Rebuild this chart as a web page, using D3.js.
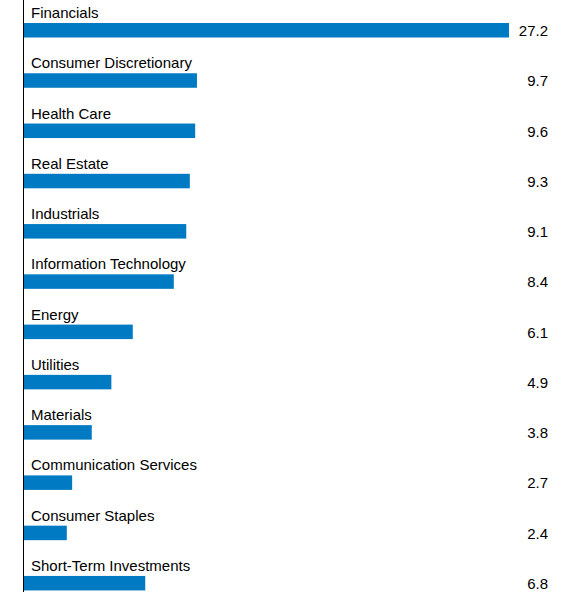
<!DOCTYPE html>
<html><head><meta charset="utf-8">
<script src="https://cdn.jsdelivr.net/npm/d3@7"></script>
<style>body{margin:0;background:#fff}text{font-family:"Liberation Sans",Arial,sans-serif}</style>
</head><body><svg id="c" width="573" height="598"></svg>
<script>
const categories=["Financials","Consumer Discretionary","Health Care","Real Estate","Industrials","Information Technology","Energy","Utilities","Materials","Communication Services","Consumer Staples","Short-Term Investments"];
const values=[27.2,9.7,9.6,9.3,9.1,8.4,6.1,4.9,3.8,2.7,2.4,6.8];
const svg=d3.select("#c");
const x0=24;
const x=d3.scaleLinear().domain([0,27.2]).range([x0,509]);
const y=d3.scaleBand().domain(categories).range([0,603.2]);
const g=svg.selectAll("g.r").data(categories).enter().append("g");
g.append("text").attr("x",31).attr("y",d=>y(d)+18).attr("font-size",15).attr("fill","#000").text(d=>d);
g.append("rect").attr("x",x0).attr("y",d=>y(d)+23).attr("height",14.5)
 .attr("width",(d,i)=>x(values[i])-x0).attr("fill","#007ac2");
g.append("text").attr("x",548).attr("y",d=>y(d)+36).attr("text-anchor","end").attr("font-size",15).text((d,i)=>values[i].toFixed(1));
svg.append("line").attr("x1",23.5).attr("x2",23.5).attr("y1",0).attr("y2",592).attr("stroke","#000").attr("stroke-width",1);
</script></body></html>
